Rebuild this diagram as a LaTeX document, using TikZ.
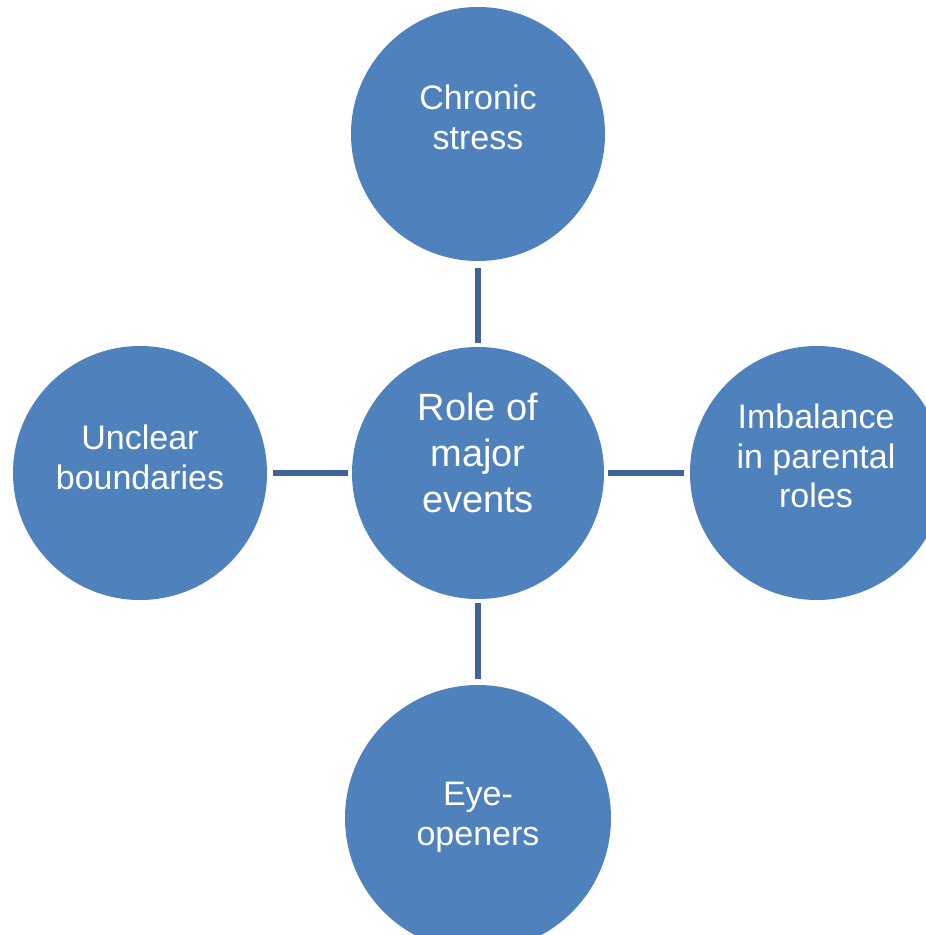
\documentclass[tikz,border=0pt]{standalone}
\usepackage{fontspec}
\setmainfont{Liberation Sans}
\definecolor{circfill}{HTML}{4F81BD}
\definecolor{connline}{HTML}{3F6495}
\begin{document}
\begin{tikzpicture}[x=1pt,y=-1pt,
  circ/.style={circle, fill=circfill, draw=none, inner sep=0pt, outer sep=0pt, minimum size=#1},
  circ/.default=254pt,
  lbl/.style={text=white, align=center, inner sep=0pt, anchor=north,
    font=\fontsize{34}{39.5}\selectfont},
  bigLbl/.style={lbl, font=\fontsize{38}{46}\selectfont},
  conn/.style={draw=connline, line width=6pt, line cap=butt}]
\clip (0,0) rectangle (926,935);
\fill[white] (0,0) rectangle (926,935);
% circles
\node[circ=252pt] (center) at (478,473) {};
\node[circ] (top) at (478,134) {};
\node[circ] (left) at (140,473) {};
\node[circ] (right) at (817,473) {};
\node[circ=266pt] (bottom) at (478,818) {};
% connectors
\draw[conn, shorten <=7pt, shorten >=4pt] (top) -- (center);
\draw[conn, shorten <=6pt, shorten >=4pt] (left) -- (center);
\draw[conn, shorten <=4pt, shorten >=6pt] (center) -- (right);
\draw[conn, shorten <=4pt, shorten >=6pt] (center) -- (bottom);
% labels
\node[bigLbl] (centerText) at (478,393) {Role of\\major\\events};
\node[lbl] (topText) at (478,85) {Chronic\\stress};
\node[lbl] (leftText) at (140,425) {Unclear\\boundaries};
\node[lbl] (rightText) at (816,404) {Imbalance\\in parental\\roles};
\node[lbl] (bottomText) at (478,782) {Eye-\\openers};
\end{tikzpicture}
\end{document}
